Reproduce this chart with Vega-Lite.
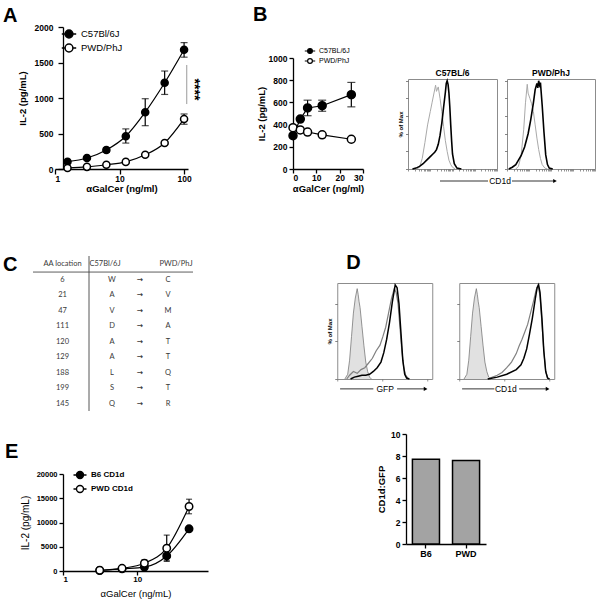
{
  "$schema": "https://vega.github.io/schema/vega-lite/v6.json",
  "background": "white",
  "padding": {"left": 3, "top": 5, "right": 2, "bottom": 2},
  "resolve": {"scale": {"fill": "independent"}},
  "datasets": {
    "a": [
      {"conc": 1.5625, "strain": "C57Bl/6J", "il2": 103, "lo": null, "hi": null},
      {"conc": 3.125, "strain": "C57Bl/6J", "il2": 155, "lo": null, "hi": null},
      {"conc": 6.25, "strain": "C57Bl/6J", "il2": 268, "lo": 235, "hi": 300},
      {"conc": 12.5, "strain": "C57Bl/6J", "il2": 461, "lo": 365, "hi": 565},
      {"conc": 25, "strain": "C57Bl/6J", "il2": 800, "lo": 610, "hi": 990},
      {"conc": 50, "strain": "C57Bl/6J", "il2": 1214, "lo": 1050, "hi": 1380},
      {"conc": 100, "strain": "C57Bl/6J", "il2": 1680, "lo": 1575, "hi": 1780},
      {"conc": 1.5625, "strain": "PWD/PhJ", "il2": 15, "lo": null, "hi": null},
      {"conc": 3.125, "strain": "PWD/PhJ", "il2": 30, "lo": null, "hi": null},
      {"conc": 6.25, "strain": "PWD/PhJ", "il2": 60, "lo": null, "hi": null},
      {"conc": 12.5, "strain": "PWD/PhJ", "il2": 100, "lo": null, "hi": null},
      {"conc": 25, "strain": "PWD/PhJ", "il2": 200, "lo": null, "hi": null},
      {"conc": 50, "strain": "PWD/PhJ", "il2": 367, "lo": 350, "hi": 385},
      {"conc": 100, "strain": "PWD/PhJ", "il2": 705, "lo": 630, "hi": 775}
    ],
    "b": [
      {"conc": 0, "strain": "C57BL/6J", "il2": 300, "lo": null, "hi": null},
      {"conc": 3.125, "strain": "C57BL/6J", "il2": 450, "lo": null, "hi": null},
      {"conc": 6.25, "strain": "C57BL/6J", "il2": 550, "lo": 480, "hi": 620},
      {"conc": 12.5, "strain": "C57BL/6J", "il2": 570, "lo": 520, "hi": 620},
      {"conc": 25, "strain": "C57BL/6J", "il2": 670, "lo": 560, "hi": 780},
      {"conc": 0, "strain": "PWD/PhJ", "il2": 372, "lo": null, "hi": null},
      {"conc": 3.125, "strain": "PWD/PhJ", "il2": 352, "lo": null, "hi": null},
      {"conc": 6.25, "strain": "PWD/PhJ", "il2": 333, "lo": null, "hi": null},
      {"conc": 12.5, "strain": "PWD/PhJ", "il2": 308, "lo": null, "hi": null},
      {"conc": 25, "strain": "PWD/PhJ", "il2": 268, "lo": null, "hi": null}
    ],
    "e": [
      {"conc": 3.125, "strain": "B6 CD1d", "il2": 100, "lo": null, "hi": null},
      {"conc": 6.25, "strain": "B6 CD1d", "il2": 450, "lo": null, "hi": null},
      {"conc": 12.5, "strain": "B6 CD1d", "il2": 800, "lo": 500, "hi": 1100},
      {"conc": 25, "strain": "B6 CD1d", "il2": 3100, "lo": 2100, "hi": 4200},
      {"conc": 50, "strain": "B6 CD1d", "il2": 8700, "lo": null, "hi": null},
      {"conc": 3.125, "strain": "PWD CD1d", "il2": 150, "lo": null, "hi": null},
      {"conc": 6.25, "strain": "PWD CD1d", "il2": 550, "lo": null, "hi": null},
      {"conc": 12.5, "strain": "PWD CD1d", "il2": 1600, "lo": 900, "hi": 2300},
      {"conc": 25, "strain": "PWD CD1d", "il2": 4700, "lo": 2000, "hi": 7400},
      {"conc": 50, "strain": "PWD CD1d", "il2": 13300, "lo": 11800, "hi": 14800}
    ],
    "bar": [
      {"line": "B6", "ratio": 7.7},
      {"line": "PWD", "ratio": 7.6}
    ],
    "tbl": [
      {"loc": "AA location", "b6": "C57Bl/6J", "arrow": "", "pwd": "PWD/PhJ"},
      {"loc": "6", "b6": "W", "arrow": "→", "pwd": "C"},
      {"loc": "21", "b6": "A", "arrow": "→", "pwd": "V"},
      {"loc": "47", "b6": "V", "arrow": "→", "pwd": "M"},
      {"loc": "111", "b6": "D", "arrow": "→", "pwd": "A"},
      {"loc": "120", "b6": "A", "arrow": "→", "pwd": "T"},
      {"loc": "129", "b6": "A", "arrow": "→", "pwd": "T"},
      {"loc": "188", "b6": "L", "arrow": "→", "pwd": "Q"},
      {"loc": "199", "b6": "S", "arrow": "→", "pwd": "T"},
      {"loc": "145", "b6": "Q", "arrow": "→", "pwd": "R"}
    ],
    "hb": [
      {"panel": "C57BL/6", "curve": "iso", "fl": 10, "pct": 0},
      {"panel": "C57BL/6", "curve": "iso", "fl": 13, "pct": 2},
      {"panel": "C57BL/6", "curve": "iso", "fl": 16, "pct": 12},
      {"panel": "C57BL/6", "curve": "iso", "fl": 19, "pct": 30},
      {"panel": "C57BL/6", "curve": "iso", "fl": 22, "pct": 50},
      {"panel": "C57BL/6", "curve": "iso", "fl": 25, "pct": 65},
      {"panel": "C57BL/6", "curve": "iso", "fl": 27, "pct": 75},
      {"panel": "C57BL/6", "curve": "iso", "fl": 29, "pct": 85},
      {"panel": "C57BL/6", "curve": "iso", "fl": 31, "pct": 95},
      {"panel": "C57BL/6", "curve": "iso", "fl": 32, "pct": 88},
      {"panel": "C57BL/6", "curve": "iso", "fl": 34, "pct": 93},
      {"panel": "C57BL/6", "curve": "iso", "fl": 36, "pct": 80},
      {"panel": "C57BL/6", "curve": "iso", "fl": 38, "pct": 65},
      {"panel": "C57BL/6", "curve": "iso", "fl": 40, "pct": 48},
      {"panel": "C57BL/6", "curve": "iso", "fl": 42, "pct": 32},
      {"panel": "C57BL/6", "curve": "iso", "fl": 44, "pct": 20},
      {"panel": "C57BL/6", "curve": "iso", "fl": 46, "pct": 10},
      {"panel": "C57BL/6", "curve": "iso", "fl": 48, "pct": 5},
      {"panel": "C57BL/6", "curve": "iso", "fl": 50, "pct": 2},
      {"panel": "C57BL/6", "curve": "iso", "fl": 53, "pct": 0},
      {"panel": "C57BL/6", "curve": "cd1d", "fl": 5, "pct": 0},
      {"panel": "C57BL/6", "curve": "cd1d", "fl": 9, "pct": 1},
      {"panel": "C57BL/6", "curve": "cd1d", "fl": 13, "pct": 3},
      {"panel": "C57BL/6", "curve": "cd1d", "fl": 17, "pct": 6},
      {"panel": "C57BL/6", "curve": "cd1d", "fl": 21, "pct": 10},
      {"panel": "C57BL/6", "curve": "cd1d", "fl": 25, "pct": 14},
      {"panel": "C57BL/6", "curve": "cd1d", "fl": 28, "pct": 17},
      {"panel": "C57BL/6", "curve": "cd1d", "fl": 30, "pct": 19},
      {"panel": "C57BL/6", "curve": "cd1d", "fl": 32, "pct": 22},
      {"panel": "C57BL/6", "curve": "cd1d", "fl": 34, "pct": 28},
      {"panel": "C57BL/6", "curve": "cd1d", "fl": 36, "pct": 38},
      {"panel": "C57BL/6", "curve": "cd1d", "fl": 38, "pct": 52},
      {"panel": "C57BL/6", "curve": "cd1d", "fl": 40, "pct": 70},
      {"panel": "C57BL/6", "curve": "cd1d", "fl": 42, "pct": 87},
      {"panel": "C57BL/6", "curve": "cd1d", "fl": 43, "pct": 97},
      {"panel": "C57BL/6", "curve": "cd1d", "fl": 44, "pct": 100},
      {"panel": "C57BL/6", "curve": "cd1d", "fl": 45, "pct": 96},
      {"panel": "C57BL/6", "curve": "cd1d", "fl": 46, "pct": 86},
      {"panel": "C57BL/6", "curve": "cd1d", "fl": 47, "pct": 70},
      {"panel": "C57BL/6", "curve": "cd1d", "fl": 48, "pct": 50},
      {"panel": "C57BL/6", "curve": "cd1d", "fl": 49, "pct": 32},
      {"panel": "C57BL/6", "curve": "cd1d", "fl": 50, "pct": 17},
      {"panel": "C57BL/6", "curve": "cd1d", "fl": 52, "pct": 6},
      {"panel": "C57BL/6", "curve": "cd1d", "fl": 55, "pct": 1},
      {"panel": "C57BL/6", "curve": "cd1d", "fl": 60, "pct": 0},
      {"panel": "PWD/PhJ", "curve": "iso", "fl": 10, "pct": 0},
      {"panel": "PWD/PhJ", "curve": "iso", "fl": 13, "pct": 3},
      {"panel": "PWD/PhJ", "curve": "iso", "fl": 16, "pct": 15},
      {"panel": "PWD/PhJ", "curve": "iso", "fl": 19, "pct": 45},
      {"panel": "PWD/PhJ", "curve": "iso", "fl": 21, "pct": 75},
      {"panel": "PWD/PhJ", "curve": "iso", "fl": 23, "pct": 96},
      {"panel": "PWD/PhJ", "curve": "iso", "fl": 24, "pct": 86},
      {"panel": "PWD/PhJ", "curve": "iso", "fl": 26, "pct": 80},
      {"panel": "PWD/PhJ", "curve": "iso", "fl": 28, "pct": 74},
      {"panel": "PWD/PhJ", "curve": "iso", "fl": 30, "pct": 65},
      {"panel": "PWD/PhJ", "curve": "iso", "fl": 32, "pct": 50},
      {"panel": "PWD/PhJ", "curve": "iso", "fl": 34, "pct": 35},
      {"panel": "PWD/PhJ", "curve": "iso", "fl": 36, "pct": 22},
      {"panel": "PWD/PhJ", "curve": "iso", "fl": 38, "pct": 12},
      {"panel": "PWD/PhJ", "curve": "iso", "fl": 40, "pct": 5},
      {"panel": "PWD/PhJ", "curve": "iso", "fl": 43, "pct": 1},
      {"panel": "PWD/PhJ", "curve": "iso", "fl": 46, "pct": 0},
      {"panel": "PWD/PhJ", "curve": "cd1d", "fl": 2, "pct": 0},
      {"panel": "PWD/PhJ", "curve": "cd1d", "fl": 6, "pct": 2},
      {"panel": "PWD/PhJ", "curve": "cd1d", "fl": 10, "pct": 5},
      {"panel": "PWD/PhJ", "curve": "cd1d", "fl": 13, "pct": 10},
      {"panel": "PWD/PhJ", "curve": "cd1d", "fl": 16, "pct": 15},
      {"panel": "PWD/PhJ", "curve": "cd1d", "fl": 20, "pct": 25},
      {"panel": "PWD/PhJ", "curve": "cd1d", "fl": 24, "pct": 40},
      {"panel": "PWD/PhJ", "curve": "cd1d", "fl": 27, "pct": 56},
      {"panel": "PWD/PhJ", "curve": "cd1d", "fl": 30, "pct": 75},
      {"panel": "PWD/PhJ", "curve": "cd1d", "fl": 32, "pct": 90},
      {"panel": "PWD/PhJ", "curve": "cd1d", "fl": 34, "pct": 97},
      {"panel": "PWD/PhJ", "curve": "cd1d", "fl": 35, "pct": 92},
      {"panel": "PWD/PhJ", "curve": "cd1d", "fl": 36, "pct": 100},
      {"panel": "PWD/PhJ", "curve": "cd1d", "fl": 37, "pct": 95},
      {"panel": "PWD/PhJ", "curve": "cd1d", "fl": 38, "pct": 98},
      {"panel": "PWD/PhJ", "curve": "cd1d", "fl": 40, "pct": 72},
      {"panel": "PWD/PhJ", "curve": "cd1d", "fl": 42, "pct": 42},
      {"panel": "PWD/PhJ", "curve": "cd1d", "fl": 44, "pct": 16},
      {"panel": "PWD/PhJ", "curve": "cd1d", "fl": 46, "pct": 5},
      {"panel": "PWD/PhJ", "curve": "cd1d", "fl": 48, "pct": 1},
      {"panel": "PWD/PhJ", "curve": "cd1d", "fl": 52, "pct": 0}
    ],
    "hd": [
      {"panel": "GFP", "curve": "iso", "fl": 8, "pct": 0},
      {"panel": "GFP", "curve": "iso", "fl": 11, "pct": 5},
      {"panel": "GFP", "curve": "iso", "fl": 13, "pct": 20},
      {"panel": "GFP", "curve": "iso", "fl": 15, "pct": 45},
      {"panel": "GFP", "curve": "iso", "fl": 17, "pct": 70},
      {"panel": "GFP", "curve": "iso", "fl": 19, "pct": 86},
      {"panel": "GFP", "curve": "iso", "fl": 21, "pct": 96},
      {"panel": "GFP", "curve": "iso", "fl": 22, "pct": 90},
      {"panel": "GFP", "curve": "iso", "fl": 23, "pct": 82},
      {"panel": "GFP", "curve": "iso", "fl": 24, "pct": 76},
      {"panel": "GFP", "curve": "iso", "fl": 26, "pct": 56},
      {"panel": "GFP", "curve": "iso", "fl": 28, "pct": 36},
      {"panel": "GFP", "curve": "iso", "fl": 30, "pct": 18},
      {"panel": "GFP", "curve": "iso", "fl": 32, "pct": 8},
      {"panel": "GFP", "curve": "iso", "fl": 34, "pct": 2},
      {"panel": "GFP", "curve": "iso", "fl": 36, "pct": 0},
      {"panel": "GFP", "curve": "gray", "fl": 10, "pct": 0},
      {"panel": "GFP", "curve": "gray", "fl": 13, "pct": 4},
      {"panel": "GFP", "curve": "gray", "fl": 17, "pct": 8},
      {"panel": "GFP", "curve": "gray", "fl": 21, "pct": 6},
      {"panel": "GFP", "curve": "gray", "fl": 25, "pct": 10},
      {"panel": "GFP", "curve": "gray", "fl": 29, "pct": 12},
      {"panel": "GFP", "curve": "gray", "fl": 33, "pct": 17},
      {"panel": "GFP", "curve": "gray", "fl": 37, "pct": 22},
      {"panel": "GFP", "curve": "gray", "fl": 41, "pct": 30},
      {"panel": "GFP", "curve": "gray", "fl": 45, "pct": 36},
      {"panel": "GFP", "curve": "gray", "fl": 48, "pct": 45},
      {"panel": "GFP", "curve": "gray", "fl": 51, "pct": 55},
      {"panel": "GFP", "curve": "gray", "fl": 54, "pct": 70},
      {"panel": "GFP", "curve": "gray", "fl": 57, "pct": 85},
      {"panel": "GFP", "curve": "gray", "fl": 60, "pct": 96},
      {"panel": "GFP", "curve": "gray", "fl": 62, "pct": 92},
      {"panel": "GFP", "curve": "gray", "fl": 64, "pct": 80},
      {"panel": "GFP", "curve": "gray", "fl": 66, "pct": 55},
      {"panel": "GFP", "curve": "gray", "fl": 68, "pct": 30},
      {"panel": "GFP", "curve": "gray", "fl": 70, "pct": 12},
      {"panel": "GFP", "curve": "gray", "fl": 72, "pct": 4},
      {"panel": "GFP", "curve": "gray", "fl": 75, "pct": 0},
      {"panel": "GFP", "curve": "black", "fl": 14, "pct": 0},
      {"panel": "GFP", "curve": "black", "fl": 18, "pct": 2},
      {"panel": "GFP", "curve": "black", "fl": 22, "pct": 3},
      {"panel": "GFP", "curve": "black", "fl": 26, "pct": 4},
      {"panel": "GFP", "curve": "black", "fl": 30, "pct": 4},
      {"panel": "GFP", "curve": "black", "fl": 34, "pct": 5},
      {"panel": "GFP", "curve": "black", "fl": 38, "pct": 8},
      {"panel": "GFP", "curve": "black", "fl": 42, "pct": 12},
      {"panel": "GFP", "curve": "black", "fl": 46, "pct": 18},
      {"panel": "GFP", "curve": "black", "fl": 49, "pct": 28},
      {"panel": "GFP", "curve": "black", "fl": 52, "pct": 42},
      {"panel": "GFP", "curve": "black", "fl": 55, "pct": 60},
      {"panel": "GFP", "curve": "black", "fl": 58, "pct": 82},
      {"panel": "GFP", "curve": "black", "fl": 61, "pct": 100},
      {"panel": "GFP", "curve": "black", "fl": 63, "pct": 97},
      {"panel": "GFP", "curve": "black", "fl": 65, "pct": 80},
      {"panel": "GFP", "curve": "black", "fl": 67, "pct": 50},
      {"panel": "GFP", "curve": "black", "fl": 69, "pct": 20},
      {"panel": "GFP", "curve": "black", "fl": 71, "pct": 5},
      {"panel": "GFP", "curve": "black", "fl": 73, "pct": 1},
      {"panel": "GFP", "curve": "black", "fl": 76, "pct": 0},
      {"panel": "CD1d", "curve": "iso", "fl": 5, "pct": 0},
      {"panel": "CD1d", "curve": "iso", "fl": 8, "pct": 5},
      {"panel": "CD1d", "curve": "iso", "fl": 10, "pct": 20},
      {"panel": "CD1d", "curve": "iso", "fl": 12, "pct": 45},
      {"panel": "CD1d", "curve": "iso", "fl": 14, "pct": 70},
      {"panel": "CD1d", "curve": "iso", "fl": 16, "pct": 86},
      {"panel": "CD1d", "curve": "iso", "fl": 18, "pct": 96},
      {"panel": "CD1d", "curve": "iso", "fl": 19, "pct": 90},
      {"panel": "CD1d", "curve": "iso", "fl": 20, "pct": 82},
      {"panel": "CD1d", "curve": "iso", "fl": 21, "pct": 76},
      {"panel": "CD1d", "curve": "iso", "fl": 23, "pct": 56},
      {"panel": "CD1d", "curve": "iso", "fl": 25, "pct": 36},
      {"panel": "CD1d", "curve": "iso", "fl": 27, "pct": 18},
      {"panel": "CD1d", "curve": "iso", "fl": 29, "pct": 8},
      {"panel": "CD1d", "curve": "iso", "fl": 31, "pct": 2},
      {"panel": "CD1d", "curve": "iso", "fl": 33, "pct": 0},
      {"panel": "CD1d", "curve": "gray", "fl": 30, "pct": 0},
      {"panel": "CD1d", "curve": "gray", "fl": 35, "pct": 2},
      {"panel": "CD1d", "curve": "gray", "fl": 40, "pct": 4},
      {"panel": "CD1d", "curve": "gray", "fl": 45, "pct": 7},
      {"panel": "CD1d", "curve": "gray", "fl": 50, "pct": 12},
      {"panel": "CD1d", "curve": "gray", "fl": 55, "pct": 18},
      {"panel": "CD1d", "curve": "gray", "fl": 60, "pct": 27},
      {"panel": "CD1d", "curve": "gray", "fl": 63, "pct": 35},
      {"panel": "CD1d", "curve": "gray", "fl": 66, "pct": 42},
      {"panel": "CD1d", "curve": "gray", "fl": 69, "pct": 50},
      {"panel": "CD1d", "curve": "gray", "fl": 72, "pct": 58},
      {"panel": "CD1d", "curve": "gray", "fl": 75, "pct": 70},
      {"panel": "CD1d", "curve": "gray", "fl": 78, "pct": 82},
      {"panel": "CD1d", "curve": "gray", "fl": 81, "pct": 95},
      {"panel": "CD1d", "curve": "gray", "fl": 83, "pct": 100},
      {"panel": "CD1d", "curve": "gray", "fl": 85, "pct": 88},
      {"panel": "CD1d", "curve": "gray", "fl": 87, "pct": 60},
      {"panel": "CD1d", "curve": "gray", "fl": 89, "pct": 30},
      {"panel": "CD1d", "curve": "gray", "fl": 91, "pct": 8},
      {"panel": "CD1d", "curve": "gray", "fl": 93, "pct": 1},
      {"panel": "CD1d", "curve": "gray", "fl": 95, "pct": 0},
      {"panel": "CD1d", "curve": "black", "fl": 30, "pct": 0},
      {"panel": "CD1d", "curve": "black", "fl": 40, "pct": 2},
      {"panel": "CD1d", "curve": "black", "fl": 50, "pct": 5},
      {"panel": "CD1d", "curve": "black", "fl": 60, "pct": 10},
      {"panel": "CD1d", "curve": "black", "fl": 65, "pct": 15},
      {"panel": "CD1d", "curve": "black", "fl": 68, "pct": 22},
      {"panel": "CD1d", "curve": "black", "fl": 71, "pct": 32},
      {"panel": "CD1d", "curve": "black", "fl": 74, "pct": 48},
      {"panel": "CD1d", "curve": "black", "fl": 77, "pct": 65},
      {"panel": "CD1d", "curve": "black", "fl": 80, "pct": 85},
      {"panel": "CD1d", "curve": "black", "fl": 82, "pct": 97},
      {"panel": "CD1d", "curve": "black", "fl": 83.5, "pct": 100},
      {"panel": "CD1d", "curve": "black", "fl": 85, "pct": 92},
      {"panel": "CD1d", "curve": "black", "fl": 87, "pct": 65},
      {"panel": "CD1d", "curve": "black", "fl": 89, "pct": 30},
      {"panel": "CD1d", "curve": "black", "fl": 91, "pct": 8},
      {"panel": "CD1d", "curve": "black", "fl": 93, "pct": 1},
      {"panel": "CD1d", "curve": "black", "fl": 95, "pct": 0}
    ]
  },
  "vconcat": [
    {
      "spacing": 51,
      "resolve": {"scale": {"fill": "independent"}},
      "hconcat": [
        {
          "width": 125, "height": 90,
          "title": {"text": "A", "anchor": "start", "frame": "group", "fontSize": 20, "fontWeight": "bold", "baseline": "alphabetic", "dx": -60, "offset": -19},
          "data": {"name": "a"},
          "layer": [
            {
              "encoding": {
                "x": {"field": "conc", "type": "quantitative", "scale": {"type": "log", "domain": [1, 115], "nice": false, "range": [-8, 125]}, "axis": {"title": "αGalCer (ng/ml)", "values": [1, 10, 100], "format": "d", "tickSize": 5, "labelPadding": 0.5, "titlePadding": 0.5, "labelOverlap": false, "labelSeparation": 0}}
              },
              "layer": [
                {"mark": {"type": "line", "interpolate": "monotone", "color": "black", "strokeWidth": 1.2},
                 "encoding": {
                   "y": {"field": "il2", "type": "quantitative", "scale": {"domain": [0, 2000], "nice": false, "range": [90, -52]}, "axis": {"title": "IL-2 (pg/mL)", "values": [0, 500, 1000, 1500, 2000], "format": "d", "tickSize": 5, "labelPadding": 5, "titlePadding": 7, "labelOverlap": false, "labelSeparation": 0}},
                   "detail": {"field": "strain"}}},
                {"transform": [{"filter": "isValid(datum.lo)"}], "mark": {"type": "rule", "color": "black", "strokeWidth": 1.2},
                 "encoding": {"y": {"field": "lo", "type": "quantitative", "axis": {"title": "IL-2 (pg/mL)", "values": [0, 500, 1000, 1500, 2000], "format": "d", "tickSize": 5, "labelPadding": 5, "titlePadding": 7, "labelOverlap": false, "labelSeparation": 0}}, "y2": {"field": "hi"}}},
                {"transform": [{"filter": "isValid(datum.lo)"}], "mark": {"type": "tick", "orient": "horizontal", "color": "black", "size": 7, "thickness": 1.2},
                 "encoding": {"y": {"field": "lo", "type": "quantitative", "axis": {"title": "IL-2 (pg/mL)", "values": [0, 500, 1000, 1500, 2000], "format": "d", "tickSize": 5, "labelPadding": 5, "titlePadding": 7, "labelOverlap": false, "labelSeparation": 0}}}},
                {"transform": [{"filter": "isValid(datum.lo)"}], "mark": {"type": "tick", "orient": "horizontal", "color": "black", "size": 7, "thickness": 1.2},
                 "encoding": {"y": {"field": "hi", "type": "quantitative", "axis": {"title": "IL-2 (pg/mL)", "values": [0, 500, 1000, 1500, 2000], "format": "d", "tickSize": 5, "labelPadding": 5, "titlePadding": 7, "labelOverlap": false, "labelSeparation": 0}}}},
                {"mark": {"type": "point", "shape": "circle", "filled": true, "stroke": "black", "strokeWidth": 1.5, "size": 50, "opacity": 1},
                 "encoding": {
                   "y": {"field": "il2", "type": "quantitative", "axis": {"title": "IL-2 (pg/mL)", "values": [0, 500, 1000, 1500, 2000], "format": "d", "tickSize": 5, "labelPadding": 5, "titlePadding": 7, "labelOverlap": false, "labelSeparation": 0}},
                   "fill": {"field": "strain", "type": "nominal", "scale": {"domain": ["C57Bl/6J", "PWD/PhJ"], "range": ["black", "white"]},
                     "legend": {"title": null, "orient": "none", "legendX": -1, "legendY": -52, "symbolType": "M-1.2,0H-0.65M0.65,0H1.2M-0.65,0A0.65,0.65,0,1,0,0.65,0A0.65,0.65,0,1,0,-0.65,0Z", "symbolSize": 144, "symbolStrokeColor": "black", "symbolStrokeWidth": 1.5, "labelFontSize": 9.5, "labelFontWeight": "normal", "labelOffset": 5, "rowPadding": 0, "padding": 0}}}}
              ]
            },
            {"data": {"values": [{}]}, "mark": {"type": "rule", "color": "#9a9a9a", "strokeWidth": 1},
             "encoding": {
               "x": {"datum": 110, "type": "quantitative", "axis": {"title": "αGalCer (ng/ml)", "values": [1, 10, 100], "format": "d", "tickSize": 5, "labelPadding": 0.5, "titlePadding": 0.5, "labelOverlap": false, "labelSeparation": 0}},
               "y": {"datum": 1465, "type": "quantitative", "axis": {"title": "IL-2 (pg/mL)", "values": [0, 500, 1000, 1500, 2000], "format": "d", "tickSize": 5, "labelPadding": 5, "titlePadding": 7, "labelOverlap": false, "labelSeparation": 0}},
               "y2": {"datum": 915}}},
            {"data": {"values": [{}]}, "mark": {"type": "text", "text": "****", "angle": 90, "fontSize": 14, "fontWeight": "bold", "align": "center", "baseline": "middle"},
             "encoding": {
               "x": {"datum": 143, "type": "quantitative", "axis": {"title": "αGalCer (ng/ml)", "values": [1, 10, 100], "format": "d", "tickSize": 5, "labelPadding": 0.5, "titlePadding": 0.5, "labelOverlap": false, "labelSeparation": 0}},
               "y": {"datum": 1120, "type": "quantitative", "axis": {"title": "IL-2 (pg/mL)", "values": [0, 500, 1000, 1500, 2000], "format": "d", "tickSize": 5, "labelPadding": 5, "titlePadding": 7, "labelOverlap": false, "labelSeparation": 0}}}}
          ]
        },
        {
          "spacing": 32,
          "resolve": {"scale": {"fill": "independent"}},
          "hconcat": [
            {
              "width": 70, "height": 90,
              "title": {"text": "B", "anchor": "start", "frame": "group", "fontSize": 20, "fontWeight": "bold", "baseline": "alphabetic", "dx": -40, "offset": 5},
              "data": {"name": "b"},
              "encoding": {
                "x": {"field": "conc", "type": "quantitative", "scale": {"domain": [0, 30], "nice": false}, "axis": {"title": "αGalCer (ng/ml)", "values": [0, 10, 20, 30], "labelPadding": 0, "titlePadding": 2, "labelOverlap": false, "labelSeparation": 0}}
              },
              "layer": [
                {"mark": {"type": "line", "color": "black", "strokeWidth": 1.2},
                 "encoding": {
                   "y": {"field": "il2", "type": "quantitative", "scale": {"domain": [0, 1000], "nice": false, "range": [90, -21]}, "axis": {"title": "IL-2 (pg/mL)", "values": [0, 200, 400, 600, 800, 1000], "format": "d", "titlePadding": 2, "labelOverlap": false, "labelSeparation": 0}},
                   "detail": {"field": "strain"}}},
                {"transform": [{"filter": "isValid(datum.lo)"}], "mark": {"type": "rule", "color": "black", "strokeWidth": 1.2},
                 "encoding": {"y": {"field": "lo", "type": "quantitative", "axis": {"title": "IL-2 (pg/mL)", "values": [0, 200, 400, 600, 800, 1000], "format": "d", "titlePadding": 2, "labelOverlap": false, "labelSeparation": 0}}, "y2": {"field": "hi"}}},
                {"transform": [{"filter": "isValid(datum.lo)"}], "mark": {"type": "tick", "orient": "horizontal", "color": "black", "size": 8, "thickness": 1.2},
                 "encoding": {"y": {"field": "lo", "type": "quantitative", "axis": {"title": "IL-2 (pg/mL)", "values": [0, 200, 400, 600, 800, 1000], "format": "d", "titlePadding": 2, "labelOverlap": false, "labelSeparation": 0}}}},
                {"transform": [{"filter": "isValid(datum.lo)"}], "mark": {"type": "tick", "orient": "horizontal", "color": "black", "size": 8, "thickness": 1.2},
                 "encoding": {"y": {"field": "hi", "type": "quantitative", "axis": {"title": "IL-2 (pg/mL)", "values": [0, 200, 400, 600, 800, 1000], "format": "d", "titlePadding": 2, "labelOverlap": false, "labelSeparation": 0}}}},
                {"mark": {"type": "point", "shape": "circle", "filled": true, "stroke": "black", "strokeWidth": 1.5, "size": 64, "opacity": 1},
                 "encoding": {
                   "y": {"field": "il2", "type": "quantitative", "axis": {"title": "IL-2 (pg/mL)", "values": [0, 200, 400, 600, 800, 1000], "format": "d", "titlePadding": 2, "labelOverlap": false, "labelSeparation": 0}},
                   "fill": {"field": "strain", "type": "nominal", "scale": {"domain": ["C57BL/6J", "PWD/PhJ"], "range": ["black", "white"]},
                     "legend": {"title": null, "orient": "none", "legendX": 12, "legendY": -33, "symbolType": "M-1.3,0H-0.6M0.6,0H1.3M-0.6,0A0.6,0.6,0,1,0,0.6,0A0.6,0.6,0,1,0,-0.6,0Z", "symbolSize": 64, "symbolStrokeColor": "black", "symbolStrokeWidth": 1.2, "labelFontSize": 7, "labelFontWeight": "normal", "labelOffset": 4, "rowPadding": 0, "padding": 0}}}}
              ]
            },
            {
              "spacing": 3,
              "vconcat": [
                {
                  "spacing": 5,
                  "hconcat": [
                    {
                      "width": 89, "height": 90,
                      "view": {"stroke": "#8c8c8c", "strokeWidth": 1},
                      "title": {"text": "C57BL/6", "fontSize": 8.5, "fontWeight": "bold", "baseline": "alphabetic", "offset": -7, "anchor": "middle", "frame": "group"},
                      "data": {"name": "hb"},
                      "transform": [{"filter": "datum.panel === 'C57BL/6'"}],
                      "mark": {"type": "line"},
                      "encoding": {
                        "x": {"field": "fl", "type": "quantitative", "scale": {"domain": [0, 100], "nice": false}, "axis": {"title": null, "labels": false, "domain": false, "tickSize": 2, "tickColor": "#666", "tickWidth": 0.7, "values": [0, 7.5, 11.9, 15.1, 17.5, 19.5, 21.1, 22.6, 23.9, 25, 32.5, 36.9, 40.1, 42.5, 44.5, 46.1, 47.6, 48.9, 50, 57.5, 61.9, 65.1, 67.5, 69.5, 71.1, 72.6, 73.9, 75, 82.5, 86.9, 90.1, 92.5, 94.5, 96.1, 97.6, 98.9, 100]}},
                        "y": {"field": "pct", "type": "quantitative", "scale": {"domain": [0, 102], "nice": false}, "axis": {"title": "% of Max", "titleFontSize": 6, "titlePadding": 2, "labels": false, "domain": false, "tickSize": 2.5, "tickColor": "#666", "tickWidth": 0.8, "values": [0, 20, 40, 60, 80, 100]}},
                        "stroke": {"field": "curve", "type": "nominal", "scale": {"domain": ["iso", "cd1d"], "range": ["#a9a9a9", "black"]}, "legend": null},
                        "strokeWidth": {"field": "curve", "type": "nominal", "scale": {"domain": ["iso", "cd1d"], "range": [1, 1.6]}, "legend": null}
                      }
                    },
                    {
                      "width": 88, "height": 90,
                      "view": {"stroke": "#8c8c8c", "strokeWidth": 1},
                      "title": {"text": "PWD/PhJ", "fontSize": 8.5, "fontWeight": "bold", "baseline": "alphabetic", "offset": -7, "anchor": "middle", "frame": "group"},
                      "data": {"name": "hb"},
                      "transform": [{"filter": "datum.panel === 'PWD/PhJ'"}],
                      "mark": {"type": "line"},
                      "encoding": {
                        "x": {"field": "fl", "type": "quantitative", "scale": {"domain": [0, 100], "nice": false}, "axis": {"title": null, "labels": false, "domain": false, "tickSize": 2, "tickColor": "#666", "tickWidth": 0.7, "values": [0, 7.5, 11.9, 15.1, 17.5, 19.5, 21.1, 22.6, 23.9, 25, 32.5, 36.9, 40.1, 42.5, 44.5, 46.1, 47.6, 48.9, 50, 57.5, 61.9, 65.1, 67.5, 69.5, 71.1, 72.6, 73.9, 75, 82.5, 86.9, 90.1, 92.5, 94.5, 96.1, 97.6, 98.9, 100]}},
                        "y": {"field": "pct", "type": "quantitative", "scale": {"domain": [0, 102], "nice": false}, "axis": {"title": null, "labels": false, "domain": false, "tickSize": 2.5, "tickColor": "#666", "tickWidth": 0.8, "values": [0, 20, 40, 60, 80, 100]}},
                        "stroke": {"field": "curve", "type": "nominal", "scale": {"domain": ["iso", "cd1d"], "range": ["#a9a9a9", "black"]}, "legend": null},
                        "strokeWidth": {"field": "curve", "type": "nominal", "scale": {"domain": ["iso", "cd1d"], "range": [1, 1.6]}, "legend": null}
                      }
                    }
                  ]
                },
                {
                  "width": 184, "height": 10,
                  "data": {"values": [{}]},
                  "layer": [
                    {"mark": {"type": "rule", "color": "black", "strokeWidth": 0.8},
                     "encoding": {"x": {"datum": 32, "type": "quantitative", "scale": {"domain": [0, 184], "nice": false, "zero": false}, "axis": null}, "x2": {"datum": 80}, "y": {"datum": 0.5, "type": "quantitative", "scale": {"domain": [0, 1]}, "axis": null}}},
                    {"mark": {"type": "rule", "color": "black", "strokeWidth": 0.8},
                     "encoding": {"x": {"datum": 104, "type": "quantitative", "axis": null}, "x2": {"datum": 146}, "y": {"datum": 0.5, "type": "quantitative", "axis": null}}},
                    {"mark": {"type": "point", "shape": "triangle-right", "filled": true, "color": "black", "size": 18, "opacity": 1},
                     "encoding": {"x": {"datum": 147, "type": "quantitative", "axis": null}, "y": {"datum": 0.5, "type": "quantitative", "axis": null}}},
                    {"mark": {"type": "text", "text": "CD1d", "fontSize": 8.5, "align": "center", "baseline": "middle"},
                     "encoding": {"x": {"datum": 92, "type": "quantitative", "axis": null}, "y": {"datum": 0.5, "type": "quantitative", "axis": null}}}
                  ]
                }
              ]
            }
          ]
        }
      ]
    },
    {
      "spacing": 117,
      "resolve": {"scale": {"fill": "independent"}},
      "hconcat": [
        {
          "spacing": 30,
          "resolve": {"scale": {"fill": "independent"}},
          "vconcat": [
            {
              "width": 130, "height": 129,
              "title": {"text": "C", "anchor": "start", "frame": "group", "fontSize": 20, "fontWeight": "bold", "baseline": "alphabetic", "dx": -60, "offset": -35},
              "data": {"name": "tbl"},
              "layer": [
                {"mark": {"type": "text", "font": "Lato", "fontSize": 7.5, "color": "#3a3a3a"},
                 "encoding": {"x": {"datum": 29.5, "type": "quantitative", "scale": {"domain": [0, 160], "nice": false, "zero": false, "range": [-30, 130]}, "axis": null},
                   "y": {"field": "loc", "type": "ordinal", "sort": null, "scale": {"type": "point", "padding": 0, "range": [-19, 121]}, "axis": null},
                   "text": {"field": "loc"}}},
                {"transform": [{"filter": "datum.loc !== 'AA location'"}], "mark": {"type": "text", "font": "Lato", "fontSize": 7.5, "color": "#3a3a3a"},
                 "encoding": {"x": {"datum": 79, "type": "quantitative", "axis": null}, "y": {"field": "loc", "type": "ordinal", "sort": null, "axis": null}, "text": {"field": "b6"}}},
                {"transform": [{"filter": "datum.loc === 'AA location'"}], "mark": {"type": "text", "font": "Lato", "fontSize": 7.5, "color": "#3a3a3a"},
                 "encoding": {"x": {"datum": 72, "type": "quantitative", "axis": null}, "y": {"field": "loc", "type": "ordinal", "sort": null, "axis": null}, "text": {"field": "b6"}}},
                {"transform": [{"filter": "datum.loc !== 'AA location'"}], "mark": {"type": "text", "font": "DejaVu Sans", "fontSize": 7.5, "fontWeight": "bold", "color": "#3a3a3a"},
                 "encoding": {"x": {"datum": 107, "type": "quantitative", "axis": null}, "y": {"field": "loc", "type": "ordinal", "sort": null, "axis": null}, "text": {"field": "arrow"}}},
                {"transform": [{"filter": "datum.loc !== 'AA location'"}], "mark": {"type": "text", "font": "Lato", "fontSize": 7.5, "color": "#3a3a3a"},
                 "encoding": {"x": {"datum": 135, "type": "quantitative", "axis": null}, "y": {"field": "loc", "type": "ordinal", "sort": null, "axis": null}, "text": {"field": "pwd"}}},
                {"transform": [{"filter": "datum.loc === 'AA location'"}], "mark": {"type": "text", "font": "Lato", "fontSize": 7.5, "color": "#3a3a3a"},
                 "encoding": {"x": {"datum": 143, "type": "quantitative", "axis": null}, "y": {"field": "loc", "type": "ordinal", "sort": null, "axis": null}, "text": {"field": "pwd"}}},
                {"data": {"values": [{}]}, "mark": {"type": "rule", "color": "#333", "strokeWidth": 0.8, "yOffset": -7.5},
                 "encoding": {"x": {"datum": 0, "type": "quantitative", "axis": null}, "x2": {"datum": 160}, "y": {"datum": "6", "type": "ordinal", "axis": null}}},
                {"data": {"values": [{}]}, "mark": {"type": "rule", "color": "#444", "strokeWidth": 0.9, "yOffset": -8, "y2Offset": 7},
                 "encoding": {"x": {"datum": 56, "type": "quantitative", "axis": null}, "y": {"datum": "AA location", "type": "ordinal", "axis": null}, "y2": {"datum": "145"}}}
              ]
            },
            {
              "width": 145, "height": 97,
              "title": {"text": "E", "anchor": "start", "frame": "group", "fontSize": 20, "fontWeight": "bold", "baseline": "alphabetic", "dx": -58, "offset": -9},
              "data": {"name": "e"},
              "encoding": {
                "x": {"field": "conc", "type": "quantitative", "scale": {"type": "log", "domain": [1, 90], "nice": false}, "axis": {"title": "αGalCer (ng/mL)", "values": [1, 10], "format": "d", "labelPadding": 0, "titlePadding": 5, "titleFontWeight": "normal", "titleFontSize": 9.5, "labelFontSize": 8, "labelOverlap": false}}
              },
              "layer": [
                {"mark": {"type": "line", "interpolate": "monotone", "color": "black", "strokeWidth": 1.2},
                 "encoding": {
                   "y": {"field": "il2", "type": "quantitative", "scale": {"domain": [0, 20000], "nice": false}, "axis": {"title": "IL-2 (pg/mL)", "values": [0, 5000, 10000, 15000, 20000], "format": "d", "titlePadding": 6, "titleFontWeight": "normal", "titleFontSize": 10, "labelFontSize": 7.5, "labelOverlap": false, "labelSeparation": 0}},
                   "detail": {"field": "strain"}}},
                {"transform": [{"filter": "isValid(datum.lo)"}], "mark": {"type": "rule", "color": "black", "strokeWidth": 1.2},
                 "encoding": {"y": {"field": "lo", "type": "quantitative", "axis": {"title": "IL-2 (pg/mL)", "values": [0, 5000, 10000, 15000, 20000], "format": "d", "titlePadding": 6, "titleFontWeight": "normal", "titleFontSize": 10, "labelFontSize": 7.5, "labelOverlap": false, "labelSeparation": 0}}, "y2": {"field": "hi"}}},
                {"transform": [{"filter": "isValid(datum.lo)"}], "mark": {"type": "tick", "orient": "horizontal", "color": "black", "size": 6, "thickness": 1.2},
                 "encoding": {"y": {"field": "lo", "type": "quantitative", "axis": {"title": "IL-2 (pg/mL)", "values": [0, 5000, 10000, 15000, 20000], "format": "d", "titlePadding": 6, "titleFontWeight": "normal", "titleFontSize": 10, "labelFontSize": 7.5, "labelOverlap": false, "labelSeparation": 0}}}},
                {"transform": [{"filter": "isValid(datum.lo)"}], "mark": {"type": "tick", "orient": "horizontal", "color": "black", "size": 6, "thickness": 1.2},
                 "encoding": {"y": {"field": "hi", "type": "quantitative", "axis": {"title": "IL-2 (pg/mL)", "values": [0, 5000, 10000, 15000, 20000], "format": "d", "titlePadding": 6, "titleFontWeight": "normal", "titleFontSize": 10, "labelFontSize": 7.5, "labelOverlap": false, "labelSeparation": 0}}}},
                {"mark": {"type": "point", "shape": "circle", "filled": true, "stroke": "black", "strokeWidth": 1.5, "size": 55, "opacity": 1},
                 "encoding": {
                   "y": {"field": "il2", "type": "quantitative", "axis": {"title": "IL-2 (pg/mL)", "values": [0, 5000, 10000, 15000, 20000], "format": "d", "titlePadding": 6, "titleFontWeight": "normal", "titleFontSize": 10, "labelFontSize": 7.5, "labelOverlap": false, "labelSeparation": 0}},
                   "fill": {"field": "strain", "type": "nominal", "scale": {"domain": ["B6 CD1d", "PWD CD1d"], "range": ["black", "white"]},
                     "legend": {"title": null, "orient": "none", "legendX": 11, "legendY": -5, "symbolType": "M-1.3,0H-0.7M0.7,0H1.3M-0.7,0A0.7,0.7,0,1,0,0.7,0A0.7,0.7,0,1,0,-0.7,0Z", "symbolSize": 100, "symbolStrokeColor": "black", "symbolStrokeWidth": 1.4, "labelFontSize": 8, "labelFontWeight": "bold", "labelOffset": 5, "rowPadding": 0, "padding": 0}}}}
              ]
            }
          ]
        },
        {
          "spacing": 36,
          "center": true,
          "resolve": {"scale": {"fill": "independent"}},
          "vconcat": [
            {
              "spacing": 22,
              "hconcat": [
                {
                  "width": 95, "height": 96,
                  "view": {"stroke": "#8c8c8c", "strokeWidth": 1},
                  "title": {"text": "D", "anchor": "start", "frame": "group", "fontSize": 20, "fontWeight": "bold", "baseline": "alphabetic", "dx": 9, "offset": -7},
                  "data": {"name": "hd"},
                  "layer": [
                    {
                      "transform": [{"filter": "datum.panel === 'GFP'"}],
                      "encoding": {
                        "x": {"field": "fl", "type": "quantitative", "scale": {"domain": [0, 100], "nice": false}, "axis": {"title": null, "labels": false, "domain": false, "tickSize": 2, "tickColor": "#666", "tickWidth": 0.7, "values": [0, 7.5, 11.9, 15.1, 17.5, 19.5, 21.1, 22.6, 23.9, 25, 32.5, 36.9, 40.1, 42.5, 44.5, 46.1, 47.6, 48.9, 50, 57.5, 61.9, 65.1, 67.5, 69.5, 71.1, 72.6, 73.9, 75, 82.5, 86.9, 90.1, 92.5, 94.5, 96.1, 97.6, 98.9, 100]}},
                        "y": {"field": "pct", "type": "quantitative", "scale": {"domain": [0, 102], "nice": false}, "axis": {"title": "% of Max", "titleFontSize": 6, "titlePadding": 2, "labels": false, "domain": false, "tickSize": 2.5, "tickColor": "#666", "tickWidth": 0.8, "values": [0, 20, 40, 60, 80, 100]}}
                      },
                      "layer": [
                        {"transform": [{"filter": "datum.curve === 'iso'"}],
                         "mark": {"type": "area", "color": "#d4d4d4", "line": {"color": "#7a7a7a", "strokeWidth": 0.8}}},
                        {"transform": [{"filter": "datum.curve === 'gray'"}], "mark": {"type": "line", "color": "#808080", "strokeWidth": 1.2}},
                        {"transform": [{"filter": "datum.curve === 'black'"}], "mark": {"type": "line", "color": "black", "strokeWidth": 1.5}}
                      ]
                    },
                    {"data": {"values": [{}]}, "mark": {"type": "rule", "color": "black", "strokeWidth": 0.8},
                     "encoding": {"x": {"datum": 3, "type": "quantitative"}, "x2": {"datum": 38}, "y": {"datum": -10.5, "type": "quantitative"}}},
                    {"data": {"values": [{}]}, "mark": {"type": "rule", "color": "black", "strokeWidth": 0.8},
                     "encoding": {"x": {"datum": 63, "type": "quantitative"}, "x2": {"datum": 92}, "y": {"datum": -10.5, "type": "quantitative"}}},
                    {"data": {"values": [{}]}, "mark": {"type": "point", "shape": "triangle-right", "filled": true, "color": "black", "size": 18, "opacity": 1},
                     "encoding": {"x": {"datum": 93, "type": "quantitative"}, "y": {"datum": -10.5, "type": "quantitative"}}},
                    {"data": {"values": [{}]}, "mark": {"type": "text", "text": "GFP", "fontSize": 8.5, "align": "center", "baseline": "middle"},
                     "encoding": {"x": {"datum": 50.5, "type": "quantitative"}, "y": {"datum": -10.5, "type": "quantitative"}}}
                  ]
                },
                {
                  "width": 95, "height": 96,
                  "view": {"stroke": "#8c8c8c", "strokeWidth": 1},
                  "data": {"name": "hd"},
                  "layer": [
                    {
                      "transform": [{"filter": "datum.panel === 'CD1d'"}],
                      "encoding": {
                        "x": {"field": "fl", "type": "quantitative", "scale": {"domain": [0, 100], "nice": false}, "axis": {"title": null, "labels": false, "domain": false, "tickSize": 2, "tickColor": "#666", "tickWidth": 0.7, "values": [0, 7.5, 11.9, 15.1, 17.5, 19.5, 21.1, 22.6, 23.9, 25, 32.5, 36.9, 40.1, 42.5, 44.5, 46.1, 47.6, 48.9, 50, 57.5, 61.9, 65.1, 67.5, 69.5, 71.1, 72.6, 73.9, 75, 82.5, 86.9, 90.1, 92.5, 94.5, 96.1, 97.6, 98.9, 100]}},
                        "y": {"field": "pct", "type": "quantitative", "scale": {"domain": [0, 102], "nice": false}, "axis": {"title": null, "labels": false, "domain": false, "tickSize": 2.5, "tickColor": "#666", "tickWidth": 0.8, "values": [0, 20, 40, 60, 80, 100]}}
                      },
                      "layer": [
                        {"transform": [{"filter": "datum.curve === 'iso'"}],
                         "mark": {"type": "area", "color": "#d4d4d4", "line": {"color": "#7a7a7a", "strokeWidth": 0.8}}},
                        {"transform": [{"filter": "datum.curve === 'gray'"}], "mark": {"type": "line", "color": "#808080", "strokeWidth": 1.2}},
                        {"transform": [{"filter": "datum.curve === 'black'"}], "mark": {"type": "line", "color": "black", "strokeWidth": 1.5}}
                      ]
                    },
                    {"data": {"values": [{}]}, "mark": {"type": "rule", "color": "black", "strokeWidth": 0.8},
                     "encoding": {"x": {"datum": 3, "type": "quantitative"}, "x2": {"datum": 37}, "y": {"datum": -10.5, "type": "quantitative"}}},
                    {"data": {"values": [{}]}, "mark": {"type": "rule", "color": "black", "strokeWidth": 0.8},
                     "encoding": {"x": {"datum": 63, "type": "quantitative"}, "x2": {"datum": 92}, "y": {"datum": -10.5, "type": "quantitative"}}},
                    {"data": {"values": [{}]}, "mark": {"type": "point", "shape": "triangle-right", "filled": true, "color": "black", "size": 18, "opacity": 1},
                     "encoding": {"x": {"datum": 93, "type": "quantitative"}, "y": {"datum": -10.5, "type": "quantitative"}}},
                    {"data": {"values": [{}]}, "mark": {"type": "text", "text": "CD1d", "fontSize": 8.5, "align": "center", "baseline": "middle"},
                     "encoding": {"x": {"datum": 49, "type": "quantitative"}, "y": {"datum": -10.5, "type": "quantitative"}}}
                  ]
                }
              ]
            },
            {
              "width": 80, "height": 110,
              "data": {"name": "bar"},
              "mark": {"type": "bar", "color": "#a3a3a3", "stroke": "black", "strokeWidth": 1.5},
              "encoding": {
                "x": {"field": "line", "type": "nominal", "sort": null, "scale": {"paddingInner": 0.325, "paddingOuter": 0.16}, "axis": {"title": null, "labelAngle": 0, "labelFontSize": 9, "tickSize": 4, "labelPadding": 1.5}},
                "y": {"field": "ratio", "type": "quantitative", "scale": {"domain": [0, 10], "nice": false}, "axis": {"values": [0, 2, 4, 6, 8, 10], "title": "CD1d:GFP", "titleFontSize": 9.5, "labelFontSize": 8.5, "titlePadding": 4, "labelOverlap": false}}
              }
            }
          ]
        }
      ]
    }
  ],
  "spacing": 31,
  "config": {
    "view": {"stroke": null},
    "font": "Liberation Sans",
    "axis": {"grid": false, "domainColor": "black", "tickColor": "black", "labelColor": "black", "titleColor": "black", "labelFont": "Liberation Sans", "titleFont": "Liberation Sans", "labelFontWeight": "bold", "titleFontWeight": "bold", "domainWidth": 1.3, "tickWidth": 1.3, "tickSize": 4, "labelPadding": 2, "labelFontSize": 8.5, "titleFontSize": 9.5},
    "legend": {"labelFont": "Liberation Sans", "labelColor": "black"},
    "title": {"font": "Liberation Sans", "color": "black"},
    "text": {"font": "Liberation Sans", "color": "black"}
  }
}
